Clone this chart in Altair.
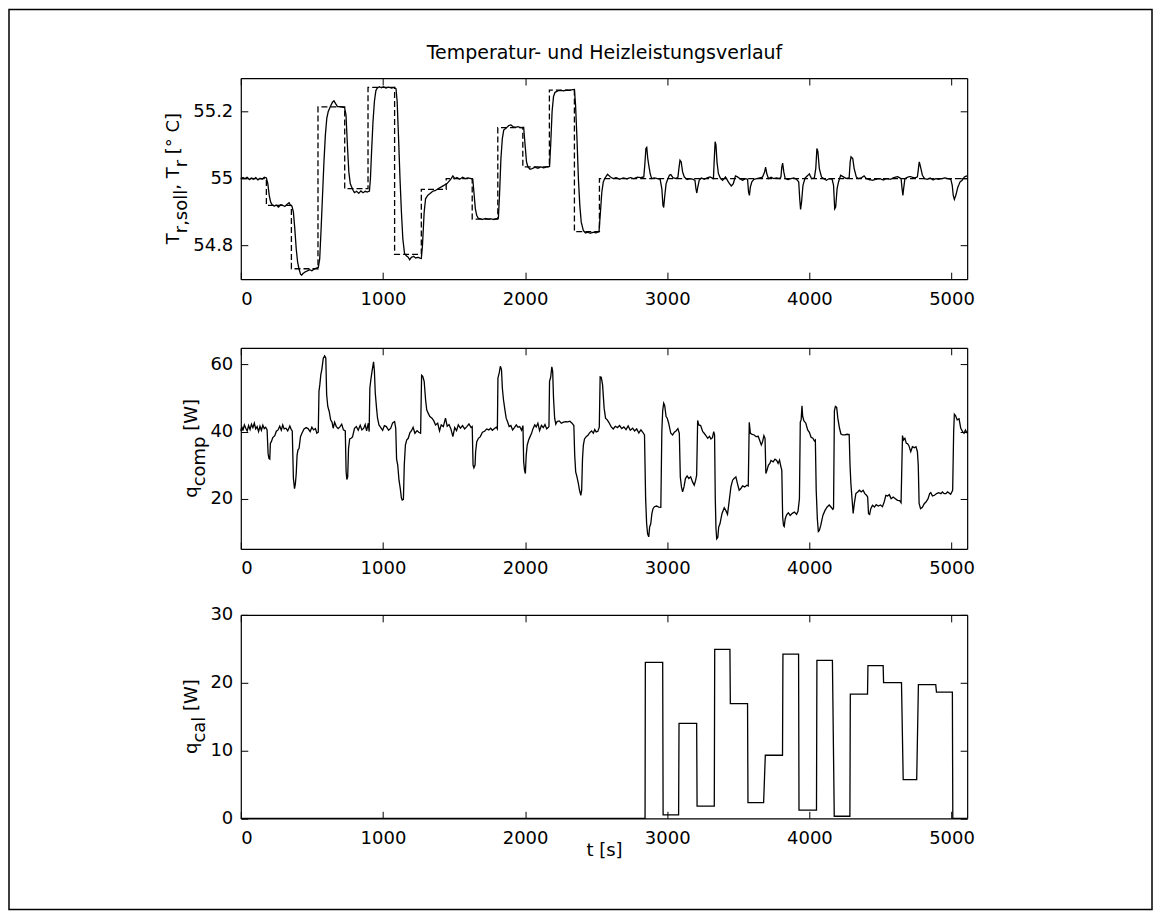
import altair as alt
import pandas as pd

# ------------------------------------------------------------------ data
# setpoint T_r,soll  (t [s], deg C)
soll_pts = [(0, 55.0), (180, 55.0), (180, 54.92), (356, 54.92), (356, 54.731), (543, 54.731),
            (543, 55.214), (731, 55.214), (731, 54.97), (895, 54.97), (895, 55.272), (1082, 55.272),
            (1082, 54.774), (1270, 54.774), (1270, 54.968), (1445, 54.968), (1445, 55.0), (1628, 55.0),
            (1628, 54.879), (1808, 54.879), (1808, 55.152), (1984, 55.152), (1984, 55.035), (2171, 55.035),
            (2171, 55.264), (2347, 55.264), (2347, 54.842), (2523, 54.842), (2523, 55.0), (5110, 55.0)]

# measured T_r
tr_pts = [(0, 55.0), (15, 55.003), (30, 55.0), (45, 55.004), (60, 54.997), (75, 55.002), (90, 54.998),
          (105, 55.003), (120, 54.996), (135, 55.001), (150, 54.998), (165, 55.004), (180, 55.002),
          (190, 54.985), (200, 54.95), (210, 54.93), (220, 54.922), (235, 54.918), (250, 54.921),
          (265, 54.915), (280, 54.922), (295, 54.92), (310, 54.917), (325, 54.923), (340, 54.928),
          (350, 54.92), (360, 54.918), (370, 54.9), (380, 54.85), (390, 54.79), (400, 54.75),
          (410, 54.73), (420, 54.715), (428, 54.712), (440, 54.718), (455, 54.722), (470, 54.725),
          (485, 54.728), (500, 54.725), (515, 54.73), (530, 54.733), (545, 54.735), (555, 54.76),
          (565, 54.85), (575, 54.95), (585, 55.05), (595, 55.13), (605, 55.18), (615, 55.2),
          (630, 55.215), (645, 55.228), (655, 55.232), (665, 55.225), (680, 55.215), (700, 55.215),
          (715, 55.213), (730, 55.212), (740, 55.19), (750, 55.1), (760, 55.02), (770, 54.985),
          (780, 54.975), (790, 54.965), (800, 54.958), (815, 54.962), (830, 54.956), (845, 54.963),
          (860, 54.958), (875, 54.962), (890, 54.96), (905, 54.963), (912, 55.0), (920, 55.08),
          (930, 55.17), (940, 55.23), (950, 55.262), (960, 55.27), (975, 55.274), (990, 55.271),
          (1005, 55.274), (1020, 55.27), (1040, 55.273), (1060, 55.27), (1080, 55.272), (1092, 55.268),
          (1100, 55.23), (1110, 55.12), (1120, 55.0), (1130, 54.9), (1140, 54.82), (1152, 54.776),
          (1165, 54.77), (1178, 54.765), (1188, 54.758), (1200, 54.765), (1215, 54.768), (1230, 54.763),
          (1245, 54.765), (1260, 54.763), (1270, 54.762), (1278, 54.8), (1290, 54.9), (1300, 54.94),
          (1315, 54.95), (1330, 54.955), (1350, 54.962), (1370, 54.965), (1390, 54.97), (1410, 54.975),
          (1430, 54.98), (1450, 54.985), (1465, 54.992), (1480, 55.0), (1492, 55.008), (1505, 55.0),
          (1520, 55.003), (1540, 54.998), (1560, 55.004), (1580, 55.0), (1600, 55.002), (1620, 55.0),
          (1632, 54.998), (1640, 54.96), (1650, 54.91), (1660, 54.89), (1670, 54.882), (1685, 54.88),
          (1700, 54.878), (1720, 54.881), (1740, 54.879), (1760, 54.88), (1780, 54.878), (1800, 54.88),
          (1812, 54.882), (1820, 54.95), (1830, 55.06), (1840, 55.12), (1850, 55.145), (1870, 55.152),
          (1885, 55.158), (1900, 55.16), (1915, 55.155), (1930, 55.153), (1950, 55.155), (1970, 55.152),
          (1990, 55.153), (2000, 55.1), (2010, 55.05), (2020, 55.035), (2035, 55.028), (2050, 55.03),
          (2070, 55.034), (2090, 55.031), (2110, 55.035), (2130, 55.032), (2150, 55.035), (2172, 55.036),
          (2180, 55.1), (2190, 55.2), (2200, 55.245), (2210, 55.257), (2230, 55.262), (2250, 55.263),
          (2270, 55.262), (2290, 55.264), (2310, 55.263), (2330, 55.265), (2347, 55.266), (2355, 55.22),
          (2365, 55.12), (2375, 55.0), (2385, 54.92), (2395, 54.87), (2410, 54.845), (2425, 54.838),
          (2440, 54.84), (2460, 54.837), (2480, 54.84), (2500, 54.838), (2520, 54.842), (2530, 54.9),
          (2540, 54.96), (2550, 54.99), (2560, 55.0), (2580, 55.013), (2600, 55.005), (2620, 55.0),
          (2640, 55.003), (2665, 54.998), (2690, 55.002), (2715, 54.999), (2740, 55.003), (2765, 55.0),
          (2790, 55.004), (2815, 55.003), (2835, 55.005), (2842, 55.04), (2850, 55.09), (2856, 55.093),
          (2863, 55.06), (2870, 55.04), (2880, 55.015), (2890, 55.0), (2910, 55.002), (2930, 55.0),
          (2950, 54.998), (2962, 54.97), (2970, 54.92), (2975, 54.914), (2983, 54.95), (2992, 54.985),
          (3005, 55.0), (3015, 55.01), (3025, 55.012), (3040, 55.003), (3060, 55.0), (3075, 55.004),
          (3082, 55.03), (3090, 55.055), (3098, 55.05), (3108, 55.02), (3120, 55.005), (3140, 54.997),
          (3160, 55.0), (3180, 54.998), (3195, 54.995), (3202, 54.97), (3208, 54.957), (3215, 54.975),
          (3225, 54.995), (3240, 55.002), (3260, 54.998), (3280, 55.002), (3300, 55.005), (3325, 55.0),
          (3330, 55.05), (3337, 55.11), (3343, 55.1), (3350, 55.05), (3360, 55.015), (3375, 55.0),
          (3390, 54.995), (3410, 55.005), (3430, 54.99), (3450, 54.978), (3465, 54.985), (3480, 55.008),
          (3495, 55.005), (3510, 55.0), (3530, 54.995), (3550, 55.0), (3565, 54.998), (3572, 54.96),
          (3578, 54.95), (3585, 54.975), (3595, 54.99), (3610, 54.998), (3630, 55.0), (3650, 55.002),
          (3670, 55.004), (3685, 55.02), (3692, 55.034), (3700, 55.015), (3712, 55.0), (3730, 55.004),
          (3750, 55.0), (3770, 55.002), (3790, 55.0), (3800, 55.005), (3806, 55.035), (3812, 55.046),
          (3820, 55.02), (3830, 55.0), (3850, 54.997), (3870, 55.0), (3890, 55.002), (3910, 54.998),
          (3925, 54.99), (3932, 54.94), (3938, 54.908), (3945, 54.93), (3955, 54.98), (3970, 55.002),
          (3985, 55.008), (4000, 55.014), (4015, 55.0), (4035, 55.002), (4045, 55.03), (4053, 55.09),
          (4060, 55.08), (4070, 55.03), (4085, 55.005), (4100, 55.0), (4120, 54.995), (4140, 55.0),
          (4160, 54.998), (4170, 54.98), (4178, 54.91), (4185, 54.915), (4195, 54.97), (4205, 54.99),
          (4220, 55.01), (4240, 55.005), (4260, 55.0), (4280, 55.003), (4287, 55.05), (4293, 55.065),
          (4305, 55.06), (4315, 55.03), (4330, 55.005), (4345, 55.0), (4365, 55.002), (4385, 55.008),
          (4400, 55.0), (4420, 54.997), (4445, 54.995), (4470, 54.998), (4495, 55.0), (4520, 54.996),
          (4545, 55.0), (4570, 54.998), (4595, 55.003), (4620, 55.006), (4645, 55.0), (4652, 54.97),
          (4658, 54.95), (4663, 54.97), (4672, 55.0), (4690, 55.004), (4710, 55.006), (4740, 55.002),
          (4760, 55.005), (4767, 55.03), (4773, 55.05), (4782, 55.035), (4795, 55.01), (4810, 55.0),
          (4830, 54.998), (4850, 55.002), (4870, 54.996), (4890, 55.0), (4910, 54.998), (4930, 55.0),
          (4955, 55.002), (4975, 55.0), (4995, 54.998), (5005, 54.98), (5012, 54.95), (5020, 54.938),
          (5030, 54.95), (5045, 54.975), (5060, 54.99), (5075, 54.995), (5090, 55.005), (5110, 55.008)]

# compensation heating power q_comp [W]
qc_pts = [(0, 40.2), (8, 41.5), (15, 40.3), (25, 42.0), (35, 41.0), (45, 40.2), (55, 41.8), (65, 40.6),
          (75, 42.2), (85, 41.2), (95, 42.5), (105, 40.8), (115, 41.5), (125, 40.0), (135, 41.6),
          (145, 40.4), (155, 41.9), (165, 40.9), (175, 41.3), (185, 40.5), (192, 33.5), (198, 32.0),
          (204, 31.8), (208, 36.5), (215, 37.0), (225, 38.2), (239, 38.8), (250, 40.1), (262, 40.5),
          (274, 41.6), (285, 40.4), (295, 42.0), (305, 40.8), (318, 41.0), (330, 40.2), (345, 41.7),
          (355, 40.6), (362, 40.2), (370, 26.0), (378, 23.0), (384, 24.5), (390, 27.5), (396, 33.0),
          (402, 34.5), (410, 35.0), (420, 38.5), (430, 39.5), (445, 40.8), (460, 41.2), (473, 40.9),
          (488, 40.0), (500, 41.3), (512, 40.5), (525, 40.9), (535, 39.5), (545, 39.8), (550, 52.0),
          (556, 54.0), (563, 57.0), (570, 58.5), (580, 61.8), (590, 62.6), (598, 62.0), (604, 51.0),
          (612, 47.5), (622, 46.0), (632, 43.5), (642, 42.8), (650, 41.0), (660, 42.8), (672, 41.5),
          (685, 40.9), (697, 41.4), (710, 42.2), (722, 40.5), (735, 40.2), (741, 28.0), (746, 25.7),
          (752, 26.5), (758, 35.0), (766, 37.8), (776, 38.0), (786, 38.4), (800, 41.0), (813, 41.5),
          (826, 40.4), (840, 41.9), (852, 40.5), (865, 41.0), (875, 42.1), (885, 40.2), (897, 42.5),
          (903, 40.0), (908, 53.0), (915, 55.5), (925, 58.5), (934, 60.8), (940, 58.0), (946, 51.5),
          (955, 47.0), (962, 44.0), (972, 42.0), (985, 41.2), (998, 40.4), (1010, 41.8), (1024, 41.5),
          (1040, 40.4), (1055, 41.0), (1068, 42.6), (1082, 43.0), (1090, 41.0), (1096, 31.8),
          (1104, 30.0), (1113, 25.5), (1122, 23.0), (1130, 20.2), (1136, 19.6), (1144, 19.8),
          (1150, 30.0), (1158, 36.0), (1167, 37.5), (1178, 38.0), (1190, 39.7), (1200, 40.2),
          (1212, 41.3), (1225, 39.5), (1240, 40.3), (1252, 39.8), (1265, 39.5), (1272, 56.8),
          (1280, 56.5), (1290, 55.0), (1300, 49.5), (1308, 46.5), (1318, 45.5), (1330, 44.5),
          (1345, 44.0), (1358, 43.2), (1370, 42.0), (1385, 42.5), (1398, 40.2), (1410, 42.0),
          (1425, 41.5), (1440, 44.0), (1452, 41.6), (1465, 42.1), (1478, 40.8), (1492, 38.5),
          (1505, 41.2), (1518, 40.3), (1530, 42.0), (1545, 41.0), (1560, 41.8), (1575, 40.8),
          (1590, 41.5), (1605, 42.3), (1620, 41.2), (1628, 41.5), (1634, 30.0), (1640, 29.2),
          (1648, 30.0), (1652, 34.0), (1660, 37.0), (1672, 38.0), (1685, 38.5), (1700, 39.8),
          (1715, 40.1), (1730, 40.8), (1745, 40.5), (1758, 41.0), (1770, 40.4), (1785, 40.9),
          (1797, 41.3), (1805, 40.8), (1809, 56.0), (1818, 57.5), (1826, 59.5), (1834, 58.5),
          (1840, 53.0), (1848, 49.5), (1858, 46.5), (1867, 44.0), (1876, 43.0), (1888, 41.5),
          (1900, 41.8), (1912, 40.5), (1925, 41.2), (1938, 42.0), (1950, 41.3), (1962, 41.5),
          (1975, 40.4), (1985, 41.8), (1990, 31.0), (1996, 28.5), (2002, 27.5), (2008, 33.0),
          (2015, 36.0), (2025, 37.5), (2035, 38.5), (2045, 39.4), (2055, 40.8), (2068, 42.0),
          (2078, 41.4), (2090, 42.5), (2102, 40.3), (2115, 41.9), (2128, 41.2), (2140, 42.1),
          (2152, 40.8), (2162, 41.2), (2168, 41.5), (2172, 55.0), (2180, 56.2), (2188, 59.3),
          (2194, 58.0), (2200, 50.0), (2208, 44.0), (2216, 42.2), (2225, 43.0), (2240, 43.2),
          (2255, 42.5), (2270, 42.8), (2285, 43.0), (2300, 42.9), (2315, 43.1), (2330, 42.5),
          (2343, 41.8), (2349, 33.0), (2356, 28.0), (2365, 26.5), (2375, 24.5), (2383, 22.5),
          (2392, 21.0), (2398, 22.5), (2404, 32.0), (2410, 36.0), (2418, 37.8), (2430, 38.5),
          (2442, 38.9), (2455, 39.7), (2468, 40.2), (2480, 39.5), (2490, 40.6), (2500, 39.9),
          (2512, 40.1), (2522, 41.3), (2528, 56.3), (2536, 56.2), (2545, 54.0), (2556, 47.0),
          (2566, 44.0), (2578, 43.5), (2590, 42.7), (2605, 41.5), (2620, 40.8), (2635, 41.6),
          (2650, 41.2), (2665, 41.8), (2680, 40.9), (2695, 41.4), (2710, 40.6), (2725, 41.7),
          (2740, 40.4), (2757, 41.0), (2770, 40.2), (2785, 40.8), (2800, 39.6), (2815, 40.5),
          (2828, 39.8), (2840, 39.0), (2848, 20.0), (2855, 12.6), (2862, 9.5), (2870, 8.6),
          (2876, 11.5), (2884, 12.5), (2892, 15.5), (2900, 17.0), (2910, 17.6), (2925, 17.8),
          (2940, 17.5), (2955, 17.4), (2962, 40.0), (2968, 46.2), (2975, 48.5), (2982, 47.8),
          (2992, 44.5), (3000, 44.0), (3010, 42.5), (3025, 39.5), (3038, 39.0), (3050, 39.8),
          (3062, 40.2), (3075, 40.9), (3085, 39.5), (3092, 26.5), (3100, 23.5), (3108, 22.0),
          (3118, 23.5), (3128, 26.0), (3140, 26.8), (3152, 26.0), (3165, 26.5), (3178, 25.0),
          (3190, 24.0), (3200, 25.5), (3207, 27.0), (3214, 43.3), (3222, 42.0), (3235, 41.8),
          (3250, 40.0), (3260, 39.5), (3272, 38.8), (3285, 38.0), (3298, 38.6), (3307, 37.8),
          (3318, 38.2), (3327, 40.0), (3333, 39.0), (3338, 20.0), (3343, 11.0), (3348, 8.0),
          (3356, 8.5), (3362, 11.5), (3371, 12.5), (3385, 15.5), (3401, 17.3), (3412, 16.5),
          (3424, 15.3), (3435, 19.0), (3448, 23.5), (3460, 25.5), (3470, 26.0), (3483, 26.5),
          (3494, 24.5), (3506, 22.5), (3518, 23.0), (3530, 23.8), (3545, 23.5), (3560, 24.0),
          (3570, 23.8), (3577, 42.8), (3585, 39.5), (3598, 39.2), (3612, 39.0), (3625, 38.5),
          (3640, 38.6), (3650, 37.4), (3662, 36.0), (3671, 37.0), (3680, 38.8), (3688, 38.0),
          (3694, 27.5), (3702, 28.5), (3712, 30.0), (3722, 30.5), (3730, 31.4), (3745, 31.0),
          (3758, 31.8), (3770, 31.4), (3780, 30.5), (3790, 31.5), (3800, 29.5), (3806, 28.5),
          (3812, 14.6), (3818, 12.0), (3823, 11.7), (3830, 14.0), (3840, 15.2), (3852, 15.8),
          (3865, 15.0), (3880, 15.6), (3895, 16.0), (3910, 15.3), (3920, 16.2), (3930, 20.0),
          (3936, 42.8), (3942, 43.5), (3948, 47.7), (3953, 44.5), (3962, 43.2), (3975, 42.5),
          (3988, 40.5), (4000, 39.8), (4012, 38.3), (4025, 38.0), (4035, 37.2), (4042, 37.5),
          (4048, 22.5), (4056, 14.0), (4063, 10.2), (4070, 10.5), (4080, 12.0), (4095, 15.0),
          (4110, 16.5), (4125, 17.5), (4140, 18.1), (4152, 17.5), (4165, 16.8), (4170, 17.2),
          (4176, 46.2), (4183, 47.5), (4192, 47.2), (4200, 44.0), (4212, 41.0), (4222, 39.3),
          (4235, 39.0), (4250, 39.0), (4265, 39.2), (4280, 39.1), (4286, 30.0), (4292, 24.5),
          (4300, 20.0), (4308, 15.6), (4316, 18.5), (4327, 21.5), (4340, 22.0), (4352, 22.5),
          (4365, 22.0), (4378, 22.5), (4390, 21.5), (4402, 21.0), (4410, 20.5), (4416, 15.5),
          (4424, 15.3), (4432, 17.0), (4444, 18.0), (4458, 17.5), (4470, 18.2), (4485, 17.8),
          (4500, 18.1), (4514, 17.6), (4526, 19.0), (4538, 21.0), (4550, 20.8), (4562, 21.2),
          (4575, 20.0), (4590, 20.5), (4605, 20.0), (4620, 19.5), (4635, 19.4), (4645, 18.8),
          (4655, 38.8), (4662, 37.5), (4672, 38.0), (4682, 36.5), (4690, 36.4), (4700, 35.8),
          (4713, 34.0), (4725, 35.5), (4738, 35.2), (4750, 35.5), (4760, 34.0), (4766, 30.0),
          (4772, 18.6), (4782, 17.0), (4795, 17.4), (4808, 18.5), (4820, 19.0), (4835, 20.0),
          (4846, 21.5), (4854, 21.8), (4866, 20.8), (4880, 21.0), (4895, 21.5), (4910, 21.8),
          (4925, 21.5), (4936, 22.0), (4948, 21.5), (4960, 21.5), (4972, 22.0), (4985, 21.6),
          (4994, 21.3), (5008, 22.5), (5015, 40.0), (5020, 45.2), (5028, 44.8), (5040, 43.5),
          (5053, 43.8), (5065, 41.0), (5078, 40.0), (5088, 39.5), (5098, 40.5), (5110, 39.5)]

# calibration heating power q_cal [W]
cal_pts = [(0, 0.0), (2844, 0.0), (2846, 23.0), (2968, 23.0), (2971, 0.5), (3080, 0.5), (3083, 14.0),
           (3207, 14.0), (3210, 1.8), (3331, 1.8), (3334, 24.9), (3441, 24.9), (3444, 16.9),
           (3565, 16.9), (3568, 2.3), (3678, 2.3), (3690, 9.3), (3811, 9.3), (3814, 24.2),
           (3924, 24.2), (3927, 1.2), (4050, 1.2), (4053, 23.3), (4162, 23.3), (4175, 0.3),
           (4285, 0.3), (4288, 18.3), (4409, 18.3), (4412, 22.5), (4519, 22.5), (4522, 20.0),
           (4648, 20.0), (4660, 5.7), (4755, 5.7), (4767, 19.7), (4889, 19.7), (4894, 18.6),
           (5006, 18.6), (5009, 0.0), (5110, 0.0)]

x_ticks = [0, 1000, 2000, 3000, 4000, 5000]
y1_ticks = [54.8, 55.0, 55.2]
y2_ticks = [20, 40, 60]
y3_ticks = [0, 10, 20, 30]
title_text = "Temperatur- und Heizleistungsverlauf"
xlabel_text = "t [s]"
# y-axis titles: (text, subscript?, word space before it?)
y1_label = [("T", False, False), ("r,soll", True, False), (",", False, False), ("T", False, True),
            ("r", True, False), ("[° C]", False, True)]
y2_label = [("q", False, False), ("comp", True, False), ("[W]", False, True)]
y3_label = [("q", False, False), ("cal", True, False), ("[W]", False, True)]

# ------------------------------------------------------------------ layout (view pixels)
W, H = 1144, 901
XL, XR = 232, 959
PANELS = [(68.7, 270.0), (338.7, 540.0), (606.0, 809.6)]
TICK = 7
HFONT = "DejaVu Sans"
FS = 18


def frame(pts, name):
    return pd.DataFrame({"t": [p[0] for p in pts], "v": [p[1] for p in pts], "s": name})


df1 = pd.concat([frame(soll_pts, "soll"), frame(tr_pts, "ist")], ignore_index=True)
df2 = frame(qc_pts, "q")
df3 = frame(cal_pts, "c")

xs = alt.Scale(domain=[0, 5110], range=[XL, XR], nice=False, zero=False)


def panel(df, ydom, yvals, top, bot, dashed=False, title_top=None, title_bottom=None):
    ys = alt.Scale(domain=ydom, range=[bot, top], nice=False, zero=False)
    extra = {}
    if dashed:
        extra = dict(
            detail="s:N",
            strokeDash=alt.StrokeDash("s:N", scale=alt.Scale(domain=["soll", "ist"], range=[[6, 3], [1, 0]]),
                                      legend=None),
        )
    lab_x = dict(orient="bottom", offset=bot - H, values=x_ticks, format="d", ticks=False, tickSize=0,
                 domain=False, labelPadding=11, title=title_bottom)
    if title_bottom:
        lab_x["titlePadding"] = -6
    main = alt.Chart(df).mark_line(color="black", strokeWidth=1.3).encode(
        x=alt.X("t:Q", scale=xs, axis=alt.Axis(**lab_x)),
        y=alt.Y("v:Q", scale=ys, axis=alt.Axis(orient="left", offset=-XL, values=yvals,
                                                 labelExpr="'' + datum.value",
                                                 ticks=False, tickSize=0, domain=False, labelPadding=8,
                                                 title=None)),
        **extra,
    )
    common = dict(labels=False, tickSize=TICK, ticks=True, domain=True, title=None)
    fa = alt.Chart(df).mark_line(opacity=0).encode(
        x=alt.X("t:Q", scale=xs, axis=alt.Axis(orient="bottom", offset=top - H, values=x_ticks, **common)),
        y=alt.Y("v:Q", scale=ys, axis=alt.Axis(orient="right", offset=XL - W, values=yvals, **common)),
    )
    fb = alt.Chart(df).mark_line(opacity=0).encode(
        x=alt.X("t:Q", scale=xs, axis=alt.Axis(orient="top", offset=-bot, values=x_ticks, **common)),
        y=alt.Y("v:Q", scale=ys, axis=alt.Axis(orient="left", offset=-XR, values=yvals, **common)),
    )
    layers = [main, fa, fb]
    if title_top:
        tt = alt.Chart(df).mark_line(opacity=0).encode(
            x=alt.X("t:Q", scale=xs, axis=alt.Axis(orient="top", offset=-top, values=x_ticks, labels=False,
                                                     ticks=False, domain=False, title=title_top,
                                                     titlePadding=16, titleFontSize=19)),
            y=alt.Y("v:Q", scale=ys, axis=None),
        )
        layers.append(tt)
    return alt.layer(*layers).resolve_axis(x="independent", y="independent")


p1 = panel(df1, [54.7, 55.3], y1_ticks, *PANELS[0], dashed=True, title_top=title_text)
p2 = panel(df2, [5, 65], y2_ticks, *PANELS[1])
p3 = panel(df3, [0, 30], y3_ticks, *PANELS[2], title_bottom=xlabel_text)

# ------------------------------------------------------------------ rotated y titles with subscripts
# DejaVu Sans advance widths (em)
CW = {"T": 0.611, "r": 0.411, ",": 0.318, "s": 0.521, "o": 0.612, "l": 0.278, " ": 0.318,
      "[": 0.390, "°": 0.5, "C": 0.698, "]": 0.390, "q": 0.635, "c": 0.550, "m": 0.974, "p": 0.635,
      "a": 0.613, "W": 0.989}
SPACE = 0.318
SUB = 8


def width(txt):
    return sum(CW.get(ch, 0.6) for ch in txt) * FS


def ylabel_rows(segments, base_x, top, bot):
    total = sum(width(s) + (SPACE * FS if gap else 0) for s, _, gap in segments)
    cy = (top + bot) / 2.0
    y = cy + total / 2.0
    rows = []
    for s, sub, gap in segments:
        if gap:
            y -= SPACE * FS
        rows.append({"px": base_x + (SUB if sub else 0), "py": y, "txt": s})
        y -= width(s)
    return rows


rows = []
rows += ylabel_rows(y1_label, 170, *PANELS[0])
rows += ylabel_rows(y2_label, 188, *PANELS[1])
rows += ylabel_rows(y3_label, 188, *PANELS[2])
lab_df = pd.DataFrame(rows)

labels = alt.Chart(lab_df).mark_text(angle=270, align="left", baseline="alphabetic", font=HFONT,
                                     fontSize=FS, color="black").encode(
    x=alt.X("px:Q", scale=None, axis=None),
    y=alt.Y("py:Q", scale=None, axis=None),
    text="txt:N",
)

chart = (
    alt.layer(p1, p2, p3, labels)
    .resolve_scale(y="independent")
    .resolve_axis(x="independent", y="independent")
    .properties(width=W, height=H, padding=1, autosize=alt.AutoSizeParams(type="none"),
                background="white")
    .configure_view(stroke="black", strokeWidth=1.5)
    .configure_axis(labelFont=HFONT, labelFontSize=FS, labelColor="black", titleFont=HFONT,
                    titleFontSize=FS, titleColor="black", titleFontWeight="normal", tickColor="black",
                    domainColor="black", domainWidth=1.2, tickWidth=1, grid=False)
)

chart.save("out.html", embed_options={"renderer": "svg", "actions": False})
